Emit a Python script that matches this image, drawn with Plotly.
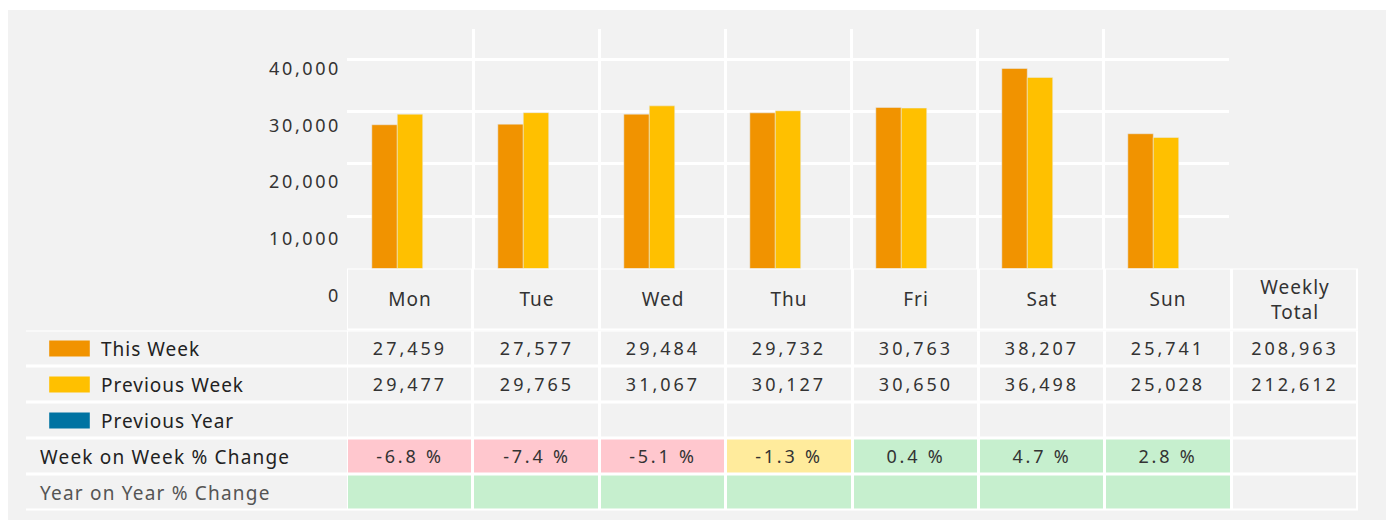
import plotly.graph_objects as go

# ---------------- data ----------------
days = ["Mon", "Tue", "Wed", "Thu", "Fri", "Sat", "Sun"]
this_week = [27459, 27577, 29484, 29732, 30763, 38207, 25741]
previous_week = [29477, 29765, 31067, 30127, 30650, 36498, 25028]
previous_year = [None, None, None, None, None, None, None]
total_this_week = 208963
total_previous_week = 212612
wow_pct = [-6.8, -7.4, -5.1, -1.3, 0.4, 4.7, 2.8]
yoy_pct = [None, None, None, None, None, None, None]
y_ticks = [0, 10000, 20000, 30000, 40000]
total_header = "Weekly<br>Total"
series_names = ["This Week", "Previous Week", "Previous Year"]
change_names = ["Week on Week % Change", "Year on Year % Change"]

# ---------------- style ----------------
W, H = 1394, 520
OFF = 8  # page body margin
FONT = "Noto Sans"
C_THIS = "#f19300"
C_PREV = "#ffc000"
C_YEAR = "#0073a2"
GRAY = "#f2f2f2"
PINK = "#ffc7ce"
YELLOW = "#ffeb9c"
GREEN = "#c6efce"
TXT = "#333333"


def px(x):
    return (x - OFF) / W


def py(y):
    return 1 - (y - OFF) / H


def ls(s, sp):
    return f'<span style="letter-spacing:{sp}px">{s}</span>'


def pct_code(v):
    # 0 gray, 1 pink, 2 yellow, 3 green
    if v is None or v >= 0:
        return 3
    if v <= -2:
        return 1
    return 2


columns = days + ["Weekly Total"]
rows = series_names + change_names

fig = go.Figure()

# ---------------- bar chart ----------------
bar_w = 0.202
fig.add_trace(go.Bar(x=days, y=this_week, name="This Week", marker_color=C_THIS,
                     width=bar_w, offset=-1.5 * bar_w, xaxis="x", yaxis="y",
                     hoverinfo="x+y+name", showlegend=False))
fig.add_trace(go.Bar(x=days, y=previous_week, name="Previous Week", marker_color=C_PREV,
                     width=bar_w, offset=-0.5 * bar_w, xaxis="x", yaxis="y",
                     hoverinfo="x+y+name", showlegend=False))
fig.add_trace(go.Bar(x=days, y=previous_year, name="Previous Year", marker_color=C_YEAR,
                     width=bar_w, offset=0.5 * bar_w, xaxis="x", yaxis="y",
                     hoverinfo="x+y+name", showlegend=False))

# invisible trace carrying the value-label axis
fig.add_trace(go.Scatter(x=[days[0], days[-1]], y=[y_ticks[0], y_ticks[-1]], xaxis="x5", yaxis="y2",
                         mode="markers", marker=dict(opacity=0), hoverinfo="skip", showlegend=False))

# ---------------- table header ----------------
hdr_text = [[ls(d, 1) for d in days] + [ls(total_header, 1)]]
fig.add_trace(go.Heatmap(z=[[0] * len(columns)], x=columns, y=["hdr"], text=hdr_text,
                         texttemplate="%{text}", textfont=dict(family=FONT, size=19, color=TXT),
                         colorscale=[[0, GRAY], [1, GRAY]], zmin=0, zmax=3, showscale=False,
                         xgap=3, ygap=3, xaxis="x3", yaxis="y3", hoverinfo="skip"))


# ---------------- table body ----------------
def fmt(v):
    return "" if v is None else ls(f"{v:,}", 3)


def fmt_pct(v):
    return "" if v is None else ls(f"{v:.1f} %", 2.8)


body_text = [
    [fmt(v) for v in this_week] + [fmt(total_this_week)],
    [fmt(v) for v in previous_week] + [fmt(total_previous_week)],
    [fmt(v) for v in previous_year] + [""],
    [fmt_pct(v) for v in wow_pct] + [""],
    [fmt_pct(v) for v in yoy_pct] + [""],
]
body_z = [
    [0] * len(columns),
    [0] * len(columns),
    [0] * len(columns),
    [pct_code(v) for v in wow_pct] + [0],
    [pct_code(v) for v in yoy_pct] + [0],
]
fig.add_trace(go.Heatmap(z=body_z, x=columns, y=rows, text=body_text, texttemplate="%{text}",
                         textfont=dict(family=FONT, size=18, color=TXT),
                         colorscale=[[0, GRAY], [1 / 3, PINK], [2 / 3, YELLOW], [1, GREEN]],
                         zmin=0, zmax=3, showscale=False, xgap=3, ygap=3,
                         xaxis="x3", yaxis="y4", hoverinfo="skip"))

# label column
fig.add_trace(go.Heatmap(z=[[0] for _ in rows], x=[0], y=rows,
                         colorscale=[[0, GRAY], [1, GRAY]], zmin=0, zmax=3, showscale=False,
                         xgap=0, ygap=3, xaxis="x4", yaxis="y4", hoverinfo="skip"))

# legend swatches (line-ew marker: length = 1.41 * size)
swatch_x = -0.5 + (69.5 - 26) / 321
fig.add_trace(go.Scatter(x=[swatch_x] * 3, y=series_names, mode="markers",
                         marker=dict(symbol="line-ew", size=29,
                                     line=dict(width=16, color=[C_THIS, C_PREV, C_YEAR])),
                         xaxis="x4", yaxis="y4", hoverinfo="skip", showlegend=False))

annotations = []
for name in series_names:
    annotations.append(dict(xref="x4 domain", yref="y4", x=(98.5 - 26) / 321, y=name,
                            text=ls(name, 1), showarrow=False, xanchor="left",
                            font=dict(family=FONT, size=19, color="#222222")))
for name, col in zip(change_names, ["#222222", "#555555"]):
    annotations.append(dict(xref="x4 domain", yref="y4", x=(38 - 26) / 321, y=name,
                            text=ls(name, 1.2), showarrow=False, xanchor="left",
                            font=dict(family=FONT, size=19, color=col)))

shapes = [
    dict(type="rect", xref="paper", yref="paper", x0=0, x1=px(1390), y0=0, y1=py(10),
         fillcolor=GRAY, line=dict(width=0), layer="below"),
    dict(type="rect", xref="x3 domain", yref="y3 domain", x0=0, x1=1, y0=0, y1=1,
         fillcolor="white", line=dict(width=0), layer="below"),
    dict(type="rect", xref="x3 domain", yref="y4 domain", x0=0, x1=1, y0=0, y1=1,
         fillcolor="white", line=dict(width=0), layer="below"),
    dict(type="rect", xref="x4 domain", yref="y4 domain", x0=0, x1=1, y0=0, y1=1,
         fillcolor="white", line=dict(width=0), layer="below"),
]

fig.update_layout(
    width=W, height=H, margin=dict(l=0, r=0, t=0, b=0, pad=0, autoexpand=False),
    paper_bgcolor="white", plot_bgcolor="rgba(0,0,0,0)",
    font=dict(family=FONT, color=TXT),
    barmode="overlay", showlegend=False,
    shapes=shapes, annotations=annotations,
    xaxis=dict(domain=[px(347), px(1229)], type="category", categoryorder="array",
               categoryarray=days, range=[-0.5, 6.5], tickson="boundaries",
               showgrid=True, gridcolor="white", gridwidth=3, showticklabels=False,
               ticks="", zeroline=False, showline=False, anchor="y", fixedrange=True,
               automargin=False),
    yaxis=dict(domain=[py(268.5), py(29)], range=[0, 45750], tick0=0, dtick=10000,
               showgrid=True, gridcolor="white", gridwidth=3, showticklabels=False,
               ticks="", zeroline=False, showline=False, anchor="x", fixedrange=True,
               automargin=False),
    xaxis5=dict(domain=[px(347), px(1229)], type="category", categoryarray=days,
                range=[-0.5, 6.5], visible=False, anchor="y2", fixedrange=True, automargin=False),
    yaxis2=dict(domain=[py(295.5), py(68.5)], range=[0, 40000], anchor="free", position=px(347),
                tickvals=y_ticks, ticktext=[ls(f"{v:,}", 2.6) for v in y_ticks],
                tickfont=dict(family=FONT, size=18, color=TXT), showgrid=False,
                zeroline=False, showline=False, ticks="", ticklabelstandoff=6, fixedrange=True,
                automargin=False),
    xaxis3=dict(domain=[px(347), px(1358)], type="category", categoryarray=columns,
                range=[-0.5, len(columns) - 0.5], visible=False, anchor="y3", fixedrange=True,
                automargin=False),
    yaxis3=dict(domain=[py(330.5), py(268.5)], type="category", range=[-0.5, 0.5],
                visible=False, anchor="x3", fixedrange=True, automargin=False),
    yaxis4=dict(domain=[py(510.5), py(330.5)], type="category", categoryorder="array",
                categoryarray=rows, range=[len(rows) - 0.5, -0.5], visible=False, anchor="x3",
                fixedrange=True, automargin=False),
    xaxis4=dict(domain=[px(26), px(347)], range=[-0.5, 0.5], visible=False, anchor="y4",
                fixedrange=True, automargin=False),
)

fig.write_html("out.html")
